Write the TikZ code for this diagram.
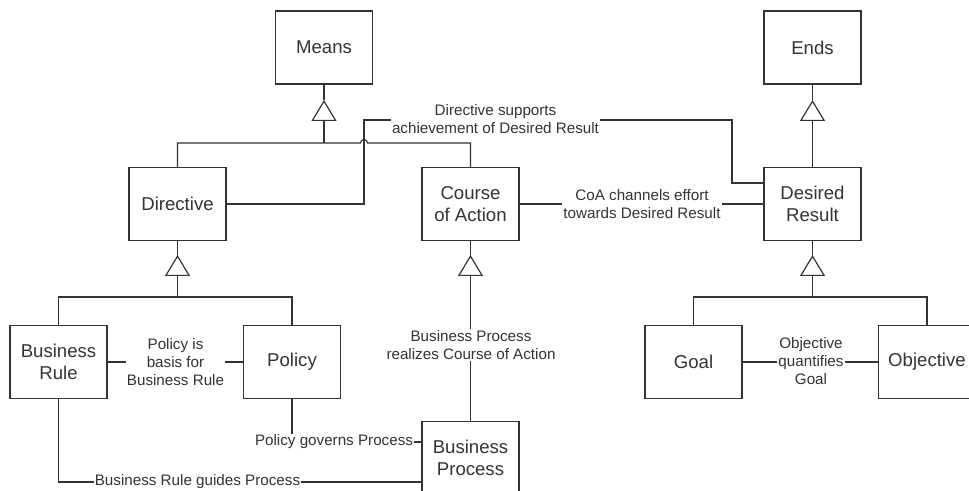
\documentclass[tikz,border=0pt]{standalone}
\usepackage{fontspec}
\setmainfont{Liberation Sans}
\usetikzlibrary{arrows.meta}

\begin{document}
\begin{tikzpicture}[x=0.5pt,y=0.5pt,line width=0.6pt,color=black!80,
  box/.style={draw, minimum width=48.5pt, minimum height=36.5pt, inner sep=0pt,
    align=center, font=\fontsize{9.3}{11}\selectfont},
  lbl/.style={fill=white, inner sep=0.5pt, align=center, font=\fontsize{7.6}{9}\selectfont},
  gen/.style={-{Triangle[open,length=10.5pt,width=12.5pt]}}]
\useasboundingbox (0,0) rectangle (969,-491);
   \node[box] (means) at (324,-47.5) {Means};
   \node[box] (ends) at (812.5,-47.5) {Ends};
   \node[box] (dir) at (177.5,-204) {Directive};
   \node[box] (coa) at (470.5,-204) {Course\\of Action};
   \node[box] (dr) at (812.5,-204) {Desired\\Result};
   \node[box] (br) at (58.5,-362) {Business\\Rule};
   \node[box] (pol) at (292,-362) {Policy};
   \node[box] (bp) at (470.5,-458) {Business\\Process};
   \node[box] (goal) at (693.5,-362) {Goal};
   \node[box] (obj) at (927,-362) {Objective};
   \coordinate (mtip) at (324,-100);
   \coordinate (mbus) at (324,-143);
   \coordinate (etip) at (812.5,-100);
   \coordinate (dtip) at (177.5,-255);
   \coordinate (dbus) at (177.5,-297);
   \coordinate (ctip) at (470.5,-255);
   \coordinate (rtip) at (812.5,-255);
   \coordinate (rbus) at (812.5,-297);
   \coordinate (dsa) at (364,-120);
   \coordinate (dsb) at (732,-183);
   \coordinate (pgc) at (292,-442);
   \coordinate (bgc) at (58.5,-482);
% generalisations
\draw (dir) |- (360.5,-143) arc[start angle=180,end angle=0,radius=3.5] -| (coa);
\draw[gen] (mbus) -- (mtip);
\draw (mtip) -- (means);
\draw[gen] (dr) -- (etip);
\draw (etip) -- (ends);
\draw (br) |- (dbus) -| (pol);
\draw[gen] (dbus) -- (dtip);
\draw (dtip) -- (dir);
\draw[gen] (bp) -- (ctip);
\draw (ctip) -- (coa);
\draw (goal) |- (rbus) -| (obj);
\draw[gen] (rbus) -- (rtip);
\draw (rtip) -- (dr);
% associations
\draw (dir) -| (dsa) -| (dsb) -- (dr.west |- dsb);
\draw (coa) -- (dr);
\draw (br) -- (pol);
\draw (goal) -- (obj);
\draw (pol) -- (pgc) -- (bp.west |- pgc);
\draw (br) -- (bgc) -- (bp.west |- bgc);
   \node[lbl] (dsl) at (495.5,-119) {Directive supports\\achievement of Desired Result};
   \node[lbl] (cel) at (642,-204) {CoA channels effort\\towards Desired Result};
   \node[lbl] (pbl) at (175.5,-362) {Policy is\\basis for\\Business Rule};
   \node[lbl] (rcl) at (471,-345) {Business Process\\realizes Course of Action};
   \node[lbl] (oql) at (811,-361) {Objective\\quantifies\\Goal};
   \node[lbl] (pgl) at (334,-442) {Policy governs Process};
   \node[lbl] (bgl) at (197.5,-482) {Business Rule guides Process};
\end{tikzpicture}
\end{document}
